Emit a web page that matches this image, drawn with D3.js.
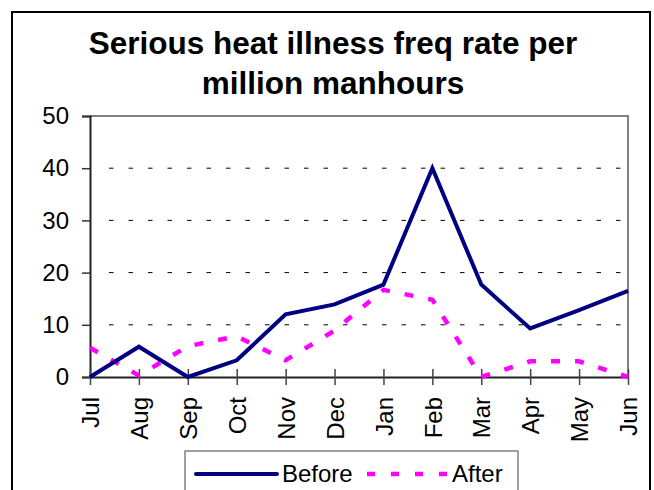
<!DOCTYPE html>
<html><head><meta charset="utf-8">
<script src="https://cdn.jsdelivr.net/npm/d3@7"></script>
<style>body{margin:0;background:#fff;}svg{display:block;}</style>
</head><body>
<svg id="c" width="654" height="490"></svg>
<script>
const months = ["Jul","Aug","Sep","Oct","Nov","Dec","Jan","Feb","Mar","Apr","May","Jun"];
const before = [0, 5.8, 0, 3.2, 12, 13.9, 17.7, 40, 17.7, 9.3, 12.8, 16.5];
const after = [5.6, 0.3, 5.9, 7.8, 3.2, 8.9, 16.7, 14.8, 0, 3, 3, 0];
const yTicks = [0, 10, 20, 30, 40, 50];
const titleLines = ["Serious heat illness freq rate per", "million manhours"];
const seriesNames = ["Before", "After"];

const svg = d3.select("#c");
const font = "'Liberation Sans', Arial, sans-serif";
const X0 = 90, X1 = 628, YT = 116, YB = 377;

// outer frame
svg.append("rect").attr("x", 12).attr("y", 12).attr("width", 638).attr("height", 500)
  .attr("fill", "none").attr("stroke", "#000").attr("stroke-width", 2);

// title
svg.append("text").attr("x", 333).attr("y", 54).attr("text-anchor", "middle")
  .attr("font-family", font).attr("font-weight", "bold").attr("font-size", 31.5)
  .selectAll("tspan").data(titleLines).join("tspan")
  .attr("x", 333).attr("dy", (d, i) => i === 0 ? 0 : 40).text(d => d);

const x = d3.scalePoint().domain(months).range([X0, X1]);
const y = d3.scaleLinear().domain([0, 50]).range([YB, YT]);

// gridlines
svg.append("g").selectAll("line").data(yTicks.filter(t => t > 0 && t < 50)).join("line")
  .attr("x1", X0 + 19).attr("x2", X1).attr("y1", d => y(d)).attr("y2", d => y(d))
  .attr("stroke", "#000").attr("stroke-width", 1).attr("stroke-dasharray", "4.5,15");

// top/right border
svg.append("path").attr("d", `M${X0},${YT}H${X1}V${YB}`).attr("fill", "none")
  .attr("stroke", "#808080").attr("stroke-width", 2);

// y axis
const ya = svg.append("g").attr("transform", `translate(${X0},0)`)
  .call(d3.axisLeft(y).tickValues(yTicks).tickSize(8).tickPadding(13));
ya.select(".domain").attr("stroke", "#222").attr("stroke-width", 2);
ya.selectAll(".tick line").attr("stroke", "#333").attr("stroke-width", 1.5);
ya.selectAll(".tick text").attr("font-family", font).attr("font-size", 24).attr("fill", "#000");

// x axis
const xa = svg.append("g").attr("transform", `translate(0,${YB})`)
  .call(d3.axisBottom(x).tickSize(8).tickSizeInner(8).tickSizeOuter(0));
xa.select(".domain").attr("stroke", "#222").attr("stroke-width", 2);
xa.selectAll(".tick line").attr("y1", -8).attr("y2", 8).attr("stroke", "#444").attr("stroke-width", 1.5);
xa.selectAll(".tick text").attr("font-family", font).attr("font-size", 24).attr("fill", "#000")
  .attr("text-anchor", "end").attr("transform", "rotate(-90)")
  .attr("x", -20).attr("y", 0).attr("dy", "0.36em");

// lines
const line = d3.line().x((d, i) => x(months[i])).y(d => y(d));
svg.append("path").datum(after).attr("d", line).attr("fill", "none")
  .attr("stroke", "#FF00FF").attr("stroke-width", 4.5).attr("stroke-dasharray", "9,15");
svg.append("path").datum(before).attr("d", line).attr("fill", "none")
  .attr("stroke", "#000080").attr("stroke-width", 4).attr("stroke-linejoin", "miter");

// legend
svg.append("rect").attr("x", 185).attr("y", 451).attr("width", 333).attr("height", 50)
  .attr("fill", "#fff").attr("stroke", "#808080").attr("stroke-width", 1.5);
svg.append("line").attr("x1", 196).attr("x2", 277).attr("y1", 474).attr("y2", 474)
  .attr("stroke", "#000080").attr("stroke-width", 4).attr("stroke-linecap", "round");
svg.append("text").attr("x", 282).attr("y", 482).attr("font-family", font).attr("font-size", 24).text(seriesNames[0]);
svg.append("line").attr("x1", 367).attr("x2", 448).attr("y1", 474).attr("y2", 474)
  .attr("stroke", "#FF00FF").attr("stroke-width", 4.5).attr("stroke-dasharray", "8,16");
svg.append("text").attr("x", 452).attr("y", 482).attr("font-family", font).attr("font-size", 24).text(seriesNames[1]);
</script>
</body></html>
